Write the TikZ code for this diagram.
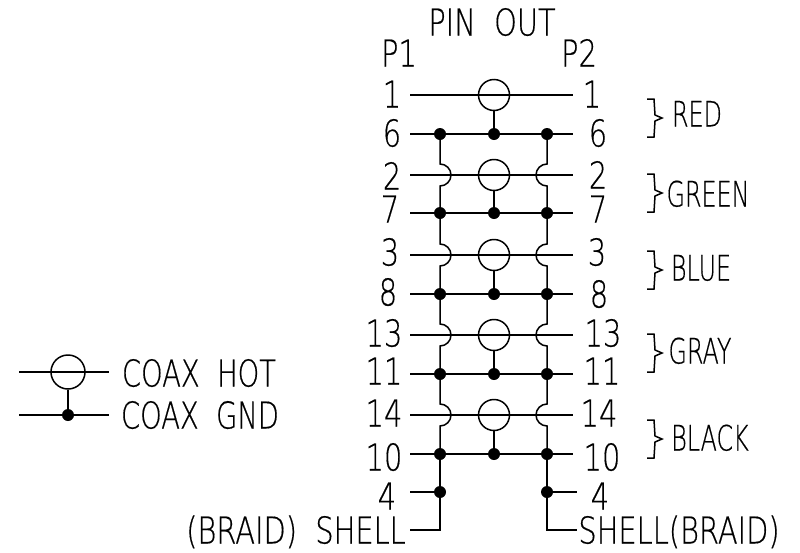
\documentclass[tikz,border=0pt]{standalone}
\usepackage{fontspec}
\setmainfont[UprightFont={* ExtraLight},FakeStretch=0.78,FakeBold=0.4]{DejaVu Sans}
\newfontfamily\narrowfont[UprightFont={* ExtraLight},FakeStretch=0.68,FakeBold=0.4]{DejaVu Sans}
\newfontfamily\coaxfont[UprightFont={* ExtraLight},FakeStretch=0.74,FakeBold=0.4]{DejaVu Sans}
\usetikzlibrary{positioning}
\tikzset{
	pin_label/.style={inner sep=0pt,text height=27pt,text depth=0pt,font=\fontsize{37}{37}\selectfont},
	wire_label/.style={pin_label,font=\fontsize{35}{35}\narrowfont},
	coax_label/.style={pin_label,font=\fontsize{37}{37}\coaxfont},
	join_dot/.style={circle,fill=black,draw=none,minimum size=12pt,inner sep=0pt},
	coax_ring/.style={circle,draw,line width=1.5pt,minimum size=31pt,inner sep=0pt},
	wire/.style={line width=1.5pt},
	gnd_wire/.style={line width=1.8pt}
}
\newcommand{\colorbrace}[2]{\draw[wire] (647,#1) -- (654,#1) -- (655,#2-3) -- (662,#2) -- (655,#2+3) -- (654,#1+38) -- (647,#1+38);}
\begin{document}
\begin{tikzpicture}[x=1pt,y=-1pt]
		\useasboundingbox (0,0) rectangle (800,552);

		% labels
		\node[pin_label] (title) at (492,22) {PIN\ \ OUT};
		\node[pin_label] (p1) at (399,53) {P1};
		\node[pin_label] (p2) at (579,53) {P2};

		\node[pin_label] (n1) at (392,94) {1};
		\node[pin_label] (n6) at (392,133) {6};
		\node[pin_label] (n2) at (392,176) {2};
		\node[pin_label] (n7) at (390,209) {7};
		\node[pin_label] (n3) at (390,252) {3};
		\node[pin_label] (n8) at (388,292) {8};
		\node[pin_label] (n13) at (384,333) {13};
		\node[pin_label] (n11) at (384,371) {11};
		\node[pin_label] (n14) at (384,413) {14};
		\node[pin_label] (n10) at (384,457) {10};
		\node[pin_label] (n4) at (387,496) {4};

		\node[pin_label] (m1) at (592,94) {1};
		\node[pin_label] (m6) at (598,133) {6};
		\node[pin_label] (m2) at (598,175) {2};
		\node[pin_label] (m7) at (598,209) {7};
		\node[pin_label] (m3) at (597,252) {3};
		\node[pin_label] (m8) at (599,294) {8};
		\node[pin_label] (m13) at (603,333) {13};
		\node[pin_label] (m11) at (602,371) {11};
		\node[pin_label] (m14) at (599,413) {14};
		\node[pin_label] (m10) at (602,457) {10};
		\node[pin_label] (m4) at (600,496) {4};

		\node[wire_label] (red) at (697,113) {RED};
		\node[wire_label] (green) at (708,193) {GREEN};
		\node[wire_label] (blue) at (701,267) {BLUE};
		\node[wire_label] (gray) at (700,350) {GRAY};
		\node[wire_label] (black) at (710,437) {BLACK};

		\node[coax_label] (hot) at (199,373) {COAX\ \ HOT};
		\node[coax_label] (gnd) at (200,415) {COAX\ \ GND};
		\node[pin_label] (shell1) at (296,530) {(BRAID)\ \ SHELL};
		\node[pin_label] (shell2) at (679,530) {SHELL(BRAID)};

		% wire ends
		\coordinate (l1) at (410,95);
		\coordinate (r1) at (573,95);
		\coordinate (l6) at (410,134);
		\coordinate (r6) at (573,134);
		\coordinate (l2) at (410,175);
		\coordinate (r2) at (573,175);
		\coordinate (l7) at (410,213);
		\coordinate (r7) at (573,213);
		\coordinate (l3) at (410,255);
		\coordinate (r3) at (573,255);
		\coordinate (l8) at (410,294);
		\coordinate (r8) at (573,294);
		\coordinate (l13) at (410,335);
		\coordinate (r13) at (573,335);
		\coordinate (l11) at (410,374);
		\coordinate (r11) at (573,374);
		\coordinate (l14) at (410,415);
		\coordinate (r14) at (573,415);
		\coordinate (l10) at (410,454);
		\coordinate (r10) at (573,454);
		\coordinate (l4) at (410,492);
		\coordinate (r4) at (577,492);
		\coordinate (l0) at (410,530);
		\coordinate (r0) at (577,530);
		\coordinate (a0) at (440,530);
		\coordinate (d0) at (547,530);

		% hop starts
		\coordinate (h2) at (440,164);
		\coordinate (h3) at (440,244);
		\coordinate (h13) at (440,324);
		\coordinate (h14) at (440,404);
		\coordinate (k2) at (547,164);
		\coordinate (k3) at (547,244);
		\coordinate (k13) at (547,324);
		\coordinate (k14) at (547,404);

		% rings
		\node[coax_ring] (c1) at (494,95) {};
		\node[coax_ring] (c2) at (494,175) {};
		\node[coax_ring] (c3) at (494,255) {};
		\node[coax_ring] (c13) at (494,335) {};
		\node[coax_ring] (c14) at (494,415) {};

		% dots
		\node[join_dot] (a6) at (440,134) {};
		\node[join_dot] (b6) at (494,134) {};
		\node[join_dot] (d6) at (547,134) {};
		\node[join_dot] (a7) at (440,213) {};
		\node[join_dot] (b7) at (494,213) {};
		\node[join_dot] (d7) at (547,213) {};
		\node[join_dot] (a8) at (440,294) {};
		\node[join_dot] (b8) at (494,294) {};
		\node[join_dot] (d8) at (547,294) {};
		\node[join_dot] (a11) at (440,374) {};
		\node[join_dot] (b11) at (494,374) {};
		\node[join_dot] (d11) at (547,374) {};
		\node[join_dot] (a10) at (440,454) {};
		\node[join_dot] (b10) at (494,454) {};
		\node[join_dot] (d10) at (547,454) {};
		\node[join_dot] (a4) at (440,492) {};
		\node[join_dot] (d4) at (547,492) {};

		% horizontal wires
		\draw[wire] (l1) -- (r1);
		\draw[wire] (l2) -- (r2);
		\draw[wire] (l3) -- (r3);
		\draw[wire] (l13) -- (r13);
		\draw[wire] (l14) -- (r14);
		\draw[gnd_wire] (l6) -- (r6);
		\draw[gnd_wire] (l7) -- (r7);
		\draw[gnd_wire] (l8) -- (r8);
		\draw[gnd_wire] (l11) -- (r11);
		\draw[gnd_wire] (l10) -- (r10);
		\draw[wire] (l4) -- (a4);
		\draw[wire] (d4) -- (r4);

		% ring to ground
		\draw[wire] (c1) -- (b6);
		\draw[wire] (c2) -- (b7);
		\draw[wire] (c3) -- (b8);
		\draw[wire] (c13) -- (b11);
		\draw[wire] (c14) -- (b10);

		% left column
		\draw[wire] (a6) -- (h2) arc[start angle=-90,end angle=90,radius=11] -- (a7);
		\draw[wire] (a7) -- (h3) arc[start angle=-90,end angle=90,radius=11] -- (a8);
		\draw[wire] (a8) -- (h13) arc[start angle=-90,end angle=90,radius=11] -- (a11);
		\draw[wire] (a11) -- (h14) arc[start angle=-90,end angle=90,radius=11] -- (a10);
		\draw[wire] (a10) -- (a4);
		\draw[wire] (a4) -- (a0) -- (l0);

		% right column
		\draw[wire] (d6) -- (k2) arc[start angle=270,end angle=90,radius=11] -- (d7);
		\draw[wire] (d7) -- (k3) arc[start angle=270,end angle=90,radius=11] -- (d8);
		\draw[wire] (d8) -- (k13) arc[start angle=270,end angle=90,radius=11] -- (d11);
		\draw[wire] (d11) -- (k14) arc[start angle=270,end angle=90,radius=11] -- (d10);
		\draw[wire] (d10) -- (d4);
		\draw[wire] (d4) -- (d0) -- (r0);

		% colour braces
		\colorbrace{99}{118}
		\colorbrace{174}{193}
		\colorbrace{251}{270}
		\colorbrace{334}{353}
		\colorbrace{420}{439}

		% legend
		\coordinate (hot_l) at (19,372);
		\coordinate (hot_r) at (109,372);
		\coordinate (gnd_l) at (19,415);
		\coordinate (gnd_r) at (109,415);
		\node[coax_ring,minimum size=34pt] (c0) at (68,372) {};
		\node[join_dot] (b0) at (68,415) {};
		\draw[wire] (hot_l) -- (hot_r);
		\draw[wire] (gnd_l) -- (gnd_r);
		\draw[wire] (c0) -- (b0);
\end{tikzpicture}
\end{document}
